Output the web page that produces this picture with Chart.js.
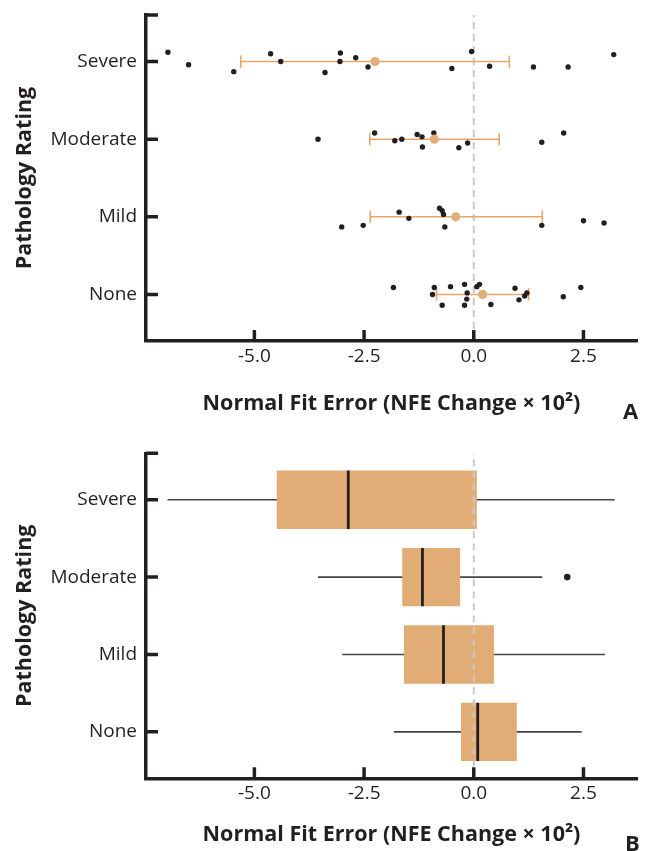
<!DOCTYPE html>
<html>
<head>
<meta charset="utf-8">
<script src="https://cdn.jsdelivr.net/npm/chart.js@4.4.1/dist/chart.umd.min.js"></script>
<style>
  body { margin: 0; background: #fff; }
  #wrap { position: relative; width: 647px; height: 851px; }
  .panel { position: absolute; left: 0; }
  .letter { position: absolute; font: bold 22px "Open Sans"; color: #231f20; }
</style>
</head>
<body>
<div id="wrap">
  <canvas id="chartA" class="panel" width="647" height="430" style="top:0"></canvas>
  <canvas id="chartB" class="panel" width="647" height="421" style="top:430px"></canvas>
  <div class="letter" style="left:623px;top:395px">A</div>
  <div class="letter" style="left:625px;top:827px">B</div>
</div>
<script>
// y positions: None = 0 ... Severe = 3
var categories = ['None', 'Mild', 'Moderate', 'Severe'];
var xTickValues = [-5.0, -2.5, 0.0, 2.5];
var xMin = -7.47, xMax = 3.72;

var noneVals = [-1.83, -0.90, -0.94, -0.72, -0.53, -0.21, -0.15, -0.16, -0.21, 0.07, 0.13, 0.39, 0.94, 1.03, 1.16, 1.21, 2.04, 2.44];
var noneJitter = [0.09, 0.09, 0, -0.14, 0.10, 0.13, 0.02, -0.06, -0.14, 0.10, 0.13, -0.13, 0.08, -0.07, -0.02, 0.02, -0.03, 0.09];
var mildVals = [-3.01, -2.52, -1.70, -1.48, -0.78, -0.72, -0.69, -0.66, 1.55, 2.50, 2.97];
var mildJitter = [-0.13, -0.11, 0.06, -0.02, 0.11, 0.08, 0.03, -0.13, -0.11, -0.05, -0.08];
var moderateVals = [-3.55, -2.26, -1.80, -1.64, -1.29, -1.18, -1.17, -0.91, -0.34, -0.14, 1.55, 2.05];
var moderateJitter = [0, 0.08, -0.02, 0, 0.06, 0.03, -0.10, 0.08, -0.11, -0.05, -0.04, 0.08];
var severeVals = [-6.97, -6.50, -5.47, -4.63, -4.40, -3.39, -3.04, -3.05, -2.69, -2.41, -0.50, -0.05, 0.36, 1.36, 2.15, 3.19];
var severeJitter = [0.12, -0.04, -0.13, 0.10, 0, -0.14, 0.11, 0, 0.05, -0.07, -0.09, 0.13, -0.06, -0.07, -0.07, 0.09];

var meanVals = [0.20, -0.41, -0.90, -2.25];
var errLow = [-0.85, -2.36, -2.37, -5.31];
var errHigh = [1.25, 1.56, 0.58, 0.81];

// panel B - box plot summary
var whiskerLow = [-1.82, -3.00, -3.55, -6.98];
var q1 = [-0.29, -1.59, -1.63, -4.49];
var medians = [0.09, -0.69, -1.17, -2.86];
var q3 = [0.98, 0.46, -0.31, 0.07];
var whiskerHigh = [2.46, 2.99, 1.56, 3.21];
var outlierVals = [2.13];
var outlierCats = [2];

var ink = '#231f20';
var orange = '#e2ac77';
var errColor = '#e9a66c';
var fontFamily = '"Open Sans", sans-serif';
var capHalf = 0.078;
var boxHalf = 0.3775;

function dots(vals, jitter, cat) {
    return vals.map(function (v, i) { return {x: v, y: cat + jitter[i]}; });
}

var zeroLine = {
    type: 'scatter',
    data: [{x: 0, y: -0.6}, {x: 0, y: 3.6}],
    showLine: true,
    borderColor: '#c8c8c8',
    borderWidth: 2,
    borderDash: [7, 5],
    pointRadius: 0,
    order: 8
};

// draws the tick marks inside the plot, like the original
var inwardTicks = {
    id: 'inwardTicks',
    afterDraw: function (chart) {
        var ctx = chart.ctx, xs = chart.scales.x, ys = chart.scales.y, area = chart.chartArea;
        ctx.save();
        ctx.strokeStyle = ink;
        ctx.lineWidth = 3.5;
        ctx.beginPath();
        xs.ticks.forEach(function (t) {
            var px = xs.getPixelForValue(t.value);
            ctx.moveTo(px, area.bottom);
            ctx.lineTo(px, area.bottom - 11);
        });
        ys.ticks.map(function (t) { return t.value; }).concat([ys.max]).forEach(function (v) {
            var py = ys.getPixelForValue(v);
            ctx.moveTo(area.left, py);
            ctx.lineTo(area.left + 12, py);
        });
        ctx.stroke();
        ctx.restore();
    }
};

function noPadding(scale) {
    scale.paddingTop = 0;
    scale.paddingBottom = 0;
    scale.paddingLeft = 0;
    scale.paddingRight = 0;
}

function makeOptions(xHeight, yPadTop, titlePadBottom) {
    return {
        responsive: false,
        animation: false,
        layout: {padding: {left: 0, right: 10, top: yPadTop, bottom: 0}},
        plugins: {legend: {display: false}, tooltip: {enabled: false}},
        scales: {
            x: {
                type: 'linear',
                min: xMin,
                max: xMax,
                offset: false,
                afterBuildTicks: function (scale) {
                    scale.ticks = xTickValues.map(function (v) { return {value: v}; });
                },
                afterFit: function (scale) { scale.height = xHeight; noPadding(scale); },
                grid: {display: false, drawTicks: false},
                border: {display: true, width: 3.5, color: ink},
                ticks: {
                    padding: 4,
                    color: ink,
                    font: {family: fontFamily, size: 19},
                    callback: function (v) { return v.toFixed(1); }
                },
                title: {
                    display: true,
                    text: 'Normal Fit Error (NFE Change \u00d7 10\u00b2)',
                    color: ink,
                    font: {family: fontFamily, size: 21.5, weight: 'bold'},
                    padding: {top: 0, bottom: titlePadBottom}
                }
            },
            y: {
                type: 'linear',
                min: -0.6,
                max: 3.6,
                offset: false,
                afterBuildTicks: function (scale) {
                    scale.ticks = [0, 1, 2, 3].map(function (v) { return {value: v}; });
                },
                afterFit: function (scale) { scale.width = 146; noPadding(scale); },
                grid: {display: false, drawTicks: false},
                border: {display: true, width: 3.5, color: ink},
                ticks: {
                    padding: 9,
                    color: ink,
                    font: {family: fontFamily, size: 19},
                    callback: function (v) { return categories[v]; }
                },
                title: {
                    display: true,
                    text: 'Pathology Rating',
                    color: ink,
                    font: {family: fontFamily, size: 21.5, weight: 'bold'},
                    padding: {top: 12, bottom: 0}
                }
            }
        }
    };
}

// ---- panel A ----
var errPath = [];
for (var i = 0; i < categories.length; i++) {
    errPath.push({x: errLow[i], y: i - capHalf}, {x: errLow[i], y: i + capHalf}, {x: errLow[i], y: null});
    errPath.push({x: errLow[i], y: i}, {x: errHigh[i], y: i}, {x: errHigh[i], y: null});
    errPath.push({x: errHigh[i], y: i - capHalf}, {x: errHigh[i], y: i + capHalf}, {x: errHigh[i], y: null});
}

var pointsA = [].concat(
    dots(noneVals, noneJitter, 0),
    dots(mildVals, mildJitter, 1),
    dots(moderateVals, moderateJitter, 2),
    dots(severeVals, severeJitter, 3)
);

var configA = {
    type: 'scatter',
    data: {
        datasets: [zeroLine, {
            label: 'error',
            data: errPath,
            showLine: true,
            spanGaps: false,
            borderColor: errColor,
            borderWidth: 1.6,
            pointRadius: 0,
            order: 6
        }, {
            label: 'cases',
            data: pointsA,
            pointRadius: 2.7,
            pointBorderWidth: 0,
            pointBackgroundColor: ink,
            order: 3
        }, {
            label: 'mean',
            data: meanVals.map(function (m, i) { return {x: m, y: i}; }),
            pointRadius: 4.6,
            pointBorderWidth: 0,
            pointBackgroundColor: '#e3ad78',
            order: 2
        }]
    },
    options: makeOptions(89, 15, 13),
    plugins: [inwardTicks]
};

// ---- panel B ----
var whiskerPath = [];
var medianPath = [];
for (var j = 0; j < categories.length; j++) {
    whiskerPath.push({x: whiskerLow[j], y: j}, {x: whiskerHigh[j], y: j}, {x: whiskerHigh[j], y: null});
    medianPath.push({x: medians[j], y: j - boxHalf}, {x: medians[j], y: j + boxHalf}, {x: medians[j], y: null});
}

var configB = {
    type: 'scatter',
    data: {
        datasets: [{
            label: 'whiskers',
            data: whiskerPath,
            showLine: true,
            spanGaps: false,
            borderColor: '#444444',
            borderWidth: 1.6,
            pointRadius: 0,
            order: 9
        }, {
            type: 'bar',
            label: 'iqr',
            indexAxis: 'y',
            data: q1.map(function (lo, k) { return {x: [lo, q3[k]], y: k}; }),
            backgroundColor: orange,
            borderWidth: 0,
            barPercentage: 0.755,
            categoryPercentage: 1,
            order: 8.5
        }, zeroLine, {
            label: 'median',
            data: medianPath,
            showLine: true,
            spanGaps: false,
            borderColor: ink,
            borderWidth: 2.8,
            pointRadius: 0,
            order: 2
        }, {
            label: 'outliers',
            data: outlierVals.map(function (v, k) { return {x: v, y: outlierCats[k]}; }),
            pointRadius: 3.3,
            pointBorderWidth: 0,
            pointBackgroundColor: ink,
            order: 1
        }]
    },
    options: makeOptions(72.7, 23.3, 3),
    plugins: [inwardTicks]
};

window.onload = function () {
    new Chart(document.getElementById('chartA').getContext('2d'), configA);
    new Chart(document.getElementById('chartB').getContext('2d'), configB);
};
</script>
</body>
</html>
